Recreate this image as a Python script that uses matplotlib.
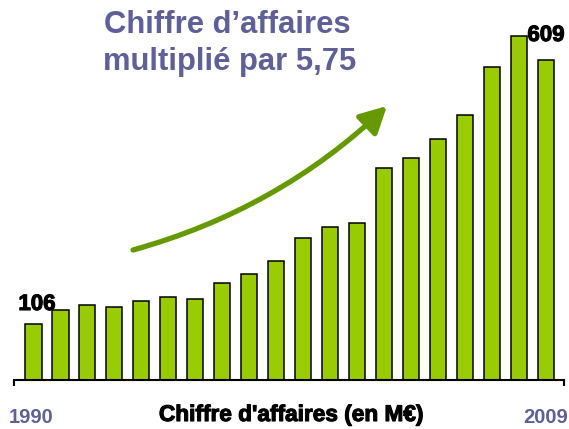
import matplotlib.pyplot as plt
import matplotlib.patheffects as pe
import numpy as np

years = list(range(1990, 2010))
ca = [106, 132, 142, 138, 149, 157, 154, 185, 201, 226,
      269, 291, 298, 403, 422, 459, 504, 596, 655, 609]
title_lines = ["Chiffre d\u2019affaires", "multipli\u00e9 par 5,75"]
xlabel = "Chiffre d'affaires (en M\u20ac)"
first_label, last_label = "106", "609"

W, H = 569, 429
bar_green = '#99cc00'
arrow_green = '#669900'
slate = '#5f5f99'

plt.rcParams['font.family'] = ['Liberation Sans', 'DejaVu Sans']

fig = plt.figure(figsize=(W / 100, H / 100), dpi=100, facecolor='white')
# axes box in pixels: left 14, right 564, baseline at y=379.5
ax = fig.add_axes([14 / W, (H - 379.5) / H, 550 / W, 379.5 / H])

x = np.arange(len(years))
ax.bar(x, ca, width=0.61, color=bar_green, edgecolor='black', linewidth=1.1)

ax.set_xlim(-0.715, len(years) - 1 + 0.67)
ax.set_ylim(0, 724)
for s in ['top', 'right', 'left']:
    ax.spines[s].set_visible(False)
ax.spines['bottom'].set_linewidth(1.5)
ax.set_yticks([])
ax.set_xticks(ax.get_xlim())
ax.set_xticklabels([])
ax.tick_params(axis='x', direction='out', length=4, width=1.5, color='black')


def fx(px):
    return px / W


def fy(py):
    return 1 - py / H


# title
fig.text(fx(227), fy(33), title_lines[0], color=slate, fontsize=22.3,
         fontweight='bold', ha='center', va='baseline')
fig.text(fx(230), fy(70), title_lines[1], color=slate, fontsize=22.3,
         fontweight='bold', ha='center', va='baseline')

# value labels
stroke = [pe.withStroke(linewidth=0.8, foreground='black')]
fig.text(fx(37), fy(310), first_label, fontsize=16, fontweight='bold',
         ha='center', va='baseline', path_effects=stroke)
fig.text(fx(546), fy(41), last_label, fontsize=16, fontweight='bold',
         ha='center', va='baseline', path_effects=stroke)

# bottom labels
fig.text(fx(31), fy(423), str(years[0]), color=slate, fontsize=14.5,
         fontweight='bold', ha='center', va='baseline')
fig.text(fx(546), fy(423), str(years[-1]), color=slate, fontsize=14.5,
         fontweight='bold', ha='center', va='baseline')
fig.text(fx(291), fy(421), xlabel, fontsize=16.3, fontweight='bold',
         ha='center', va='baseline', path_effects=stroke)

# growth arrow
ax.annotate('', xy=(387, H - 106), xycoords='figure pixels',
            xytext=(133, H - 250), textcoords='figure pixels',
            arrowprops=dict(arrowstyle='-|>,head_length=0.8,head_width=0.42',
                            connectionstyle='arc3,rad=0.125',
                            color=arrow_green, lw=3.8, mutation_scale=20,
                            shrinkA=0, shrinkB=0))

fig.savefig('out.png', dpi=100, facecolor='white')
